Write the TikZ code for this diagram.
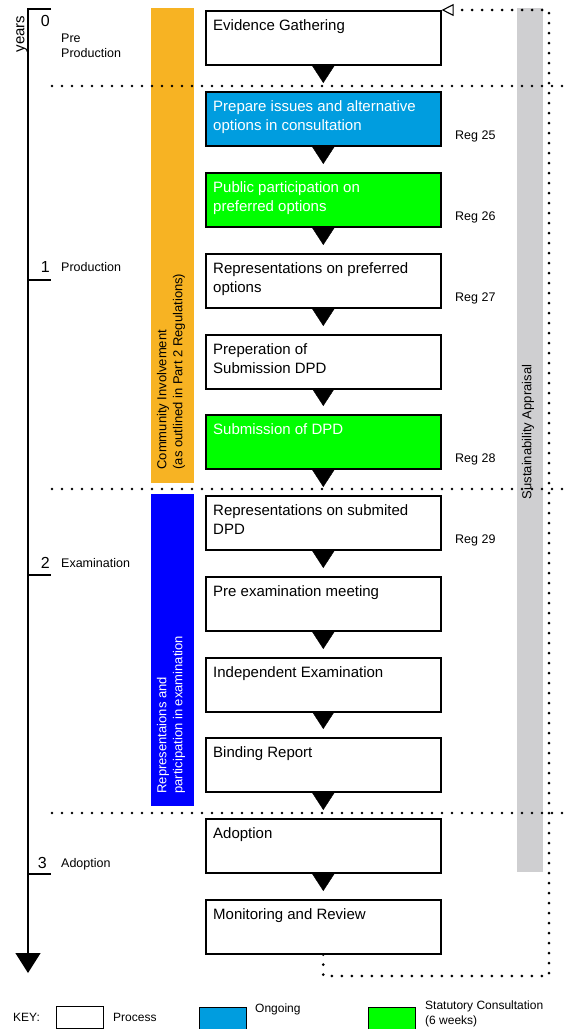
\documentclass[tikz,border=0pt]{standalone}
\usepackage{fontspec}
\setmainfont{Liberation Sans}
\usetikzlibrary{arrows.meta}

\definecolor{ongoingblue}{RGB}{0,157,223}
\definecolor{consultgreen}{RGB}{0,255,0}
\definecolor{barorange}{RGB}{247,179,35}
\definecolor{bargray}{RGB}{207,207,209}
\definecolor{barblue}{RGB}{0,0,255}

\tikzset{
	procbox/.style={draw, line width=1.6pt, minimum width=235pt, minimum height=54pt, inner sep=0pt, anchor=north west},
	boxtext/.style={anchor=north west, align=left, inner xsep=8pt, inner ysep=9pt, font=\fontsize{15}{19}\selectfont},
	flow/.style={-{Triangle[length=17pt,width=22pt]}, shorten >=8pt},
	dots/.style={line width=2.9pt, dash pattern=on 0pt off 10pt, line cap=round},
	small/.style={font=\fontsize{12.5}{15}\selectfont, inner sep=0pt, anchor=west, align=left},
	keybox/.style={draw, line width=1.2pt, minimum width=47pt, minimum height=22pt, inner sep=0pt, anchor=north west},
	bartext/.style={rotate=90, anchor=west, align=left, font=\fontsize{13}{16}\selectfont},
	axisline/.style={line width=1.3pt},
}

\begin{document}
\begin{tikzpicture}[x=1pt, y=-1pt]
	
	\useasboundingbox (0,0) rectangle (564,1029);
	
	% time axis
	\draw[axisline, -{Triangle[length=20pt,width=25pt]}] (51,9) -- (28,9) -- (28,973);
	\draw[axisline] (28,280) -- (51,280);
	\draw[axisline] (28,575) -- (51,575);
	\draw[axisline] (28,874) -- (51,874);
	\node[rotate=90, font=\fontsize{15}{18}\selectfont, inner sep=0pt] (years) at (22,34) {years};
	
	\node[anchor=east, inner sep=0pt, font=\fontsize{16}{19}\selectfont] (yr0) at (50,21) {0};
	\node[anchor=east, inner sep=0pt, font=\fontsize{16}{19}\selectfont] (yr1) at (50,267) {1};
	\node[anchor=east, inner sep=0pt, font=\fontsize{16}{19}\selectfont] (yr2) at (50,563) {2};
	\node[anchor=east, inner sep=0pt, font=\fontsize{16}{19}\selectfont] (yr3) at (47,863) {3};
	
	\node[small] (preprod) at (61,46) {Pre\\Production};
	\node[small] (prod) at (61,267) {Production};
	\node[small] (exam) at (61,563) {Examination};
	\node[small] (adopt) at (61,864) {Adoption};
	
	% side bars
	\fill[barorange] (151,8) rectangle (194,483);
	\fill[barblue] (151,494) rectangle (194,806);
	\fill[bargray] (517,8) rectangle (543,872);
	\node[bartext] (commin) at (171,473) {Community Involvement\\(as outlined in Part 2 Regulations)};
	\node[bartext, text=white] (repin) at (171,797) {Representaions and\\participation in examination};
	\node[rotate=90, font=\fontsize{13}{16}\selectfont] (susapp) at (528,432) {Sustainability Appraisal};
	
	% process boxes
	\node[procbox, fill=white, label={[boxtext]north west:{Evidence Gathering}}] (evid) at (205,10) {};
	\node[procbox, fill=ongoingblue, label={[boxtext, text=white]north west:{Prepare issues and alternative\\options in consultation}}] (prep) at (205,91) {};
	\node[procbox, fill=consultgreen, label={[boxtext, text=white]north west:{Public participation on\\preferred options}}] (pubpart) at (205,172) {};
	\node[procbox, fill=white, label={[boxtext]north west:{Representations on preferred\\options}}] (reppref) at (205,253) {};
	\node[procbox, fill=white, label={[boxtext]north west:{Preperation of\\Submission DPD}}] (prepsub) at (205,334) {};
	\node[procbox, fill=consultgreen, label={[boxtext, text=white]north west:{Submission of DPD}}] (submit) at (205,414) {};
	\node[procbox, fill=white, label={[boxtext]north west:{Representations on submited\\DPD}}] (repsub) at (205,495) {};
	\node[procbox, fill=white, label={[boxtext]north west:{Pre examination meeting}}] (preexam) at (205,576) {};
	\node[procbox, fill=white, label={[boxtext]north west:{Independent Examination}}] (indexam) at (205,657) {};
	\node[procbox, fill=white, label={[boxtext]north west:{Binding Report}}] (binding) at (205,737) {};
	\node[procbox, fill=white, label={[boxtext]north west:{Adoption}}] (adoption) at (205,818) {};
	\node[procbox, fill=white, label={[boxtext]north west:{Monitoring and Review}}] (monitor) at (205,899) {};
	
	\draw[flow] (evid) -- (prep);
	\draw[flow] (prep) -- (pubpart);
	\draw[flow] (pubpart) -- (reppref);
	\draw[flow] (reppref) -- (prepsub);
	\draw[flow] (prepsub) -- (submit);
	\draw[flow] (submit) -- (repsub);
	\draw[flow] (repsub) -- (preexam);
	\draw[flow] (preexam) -- (indexam);
	\draw[flow] (indexam) -- (binding);
	\draw[flow] (binding) -- (adoption);
	\draw[flow] (adoption) -- (monitor);
	
	% regulations
	\node[small] (reg25) at (455,136) {Reg 25};
	\node[small] (reg26) at (455,217) {Reg 26};
	\node[small] (reg27) at (455,298) {Reg 27};
	\node[small] (reg28) at (455,459) {Reg 28};
	\node[small] (reg29) at (455,540) {Reg 29};
	
	% stage dividers and review loop
	\draw[dots] (52,86) -- (564,86);
	\draw[dots] (52,489) -- (564,489);
	\draw[dots] (52,813) -- (564,813);
	\coordinate (loopbot) at (549,976);
	\coordinate (looptop) at (549,10);
	\draw[dots, -{Triangle[open, length=12pt, width=12pt, line width=1.1pt, fill=white]}] (monitor.south) |- (loopbot) -- (looptop) -- (evid.north east);
	
	% key
	\node[small, font=\fontsize{12}{15}\selectfont] (key) at (13,1017) {KEY:};
	\node[keybox, fill=white] (kproc) at (56,1006) {};
	\node[small, font=\fontsize{12}{15}\selectfont] (kproctxt) at (113,1017) {Process};
	\node[keybox, fill=ongoingblue] (kongo) at (199,1007) {};
	\node[small, font=\fontsize{12}{15}\selectfont] (kongotxt) at (255,1009) {Ongoing};
	\node[keybox, fill=consultgreen] (kcons) at (368,1007) {};
	\node[small, font=\fontsize{12}{15}\selectfont] (kconstxt) at (425,1014) {Statutory Consultation\\(6 weeks)};
	
\end{tikzpicture}
\end{document}
